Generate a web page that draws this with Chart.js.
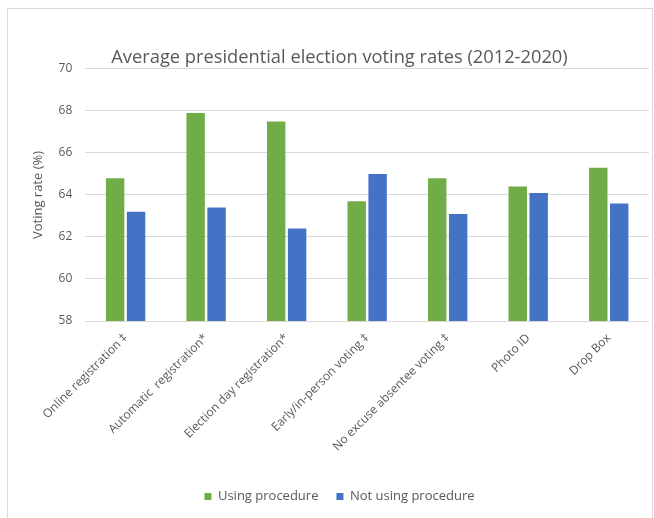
<!DOCTYPE html>
<html>
<head>
<meta charset="utf-8">
<script src="https://cdn.jsdelivr.net/npm/chart.js@4"></script>
<style>
  html, body { margin: 0; padding: 0; background: #fff; }
  #frame {
    position: absolute; left: 7px; top: 8px;
    width: 644px; height: 520px;
    border: 1px solid #d9d9d9; border-bottom: none;
  }
  #chartBox { position: absolute; left: 0; top: 0; width: 644px; height: 510px; }
</style>
</head>
<body>
<div id="frame"><div id="chartBox"><canvas id="votingChart"></canvas></div></div>
<script>
const categories = [
    'Online registration \u2021',
    'Automatic  registration*',
    'Election day registration*',
    'Early/in-person voting \u2021',
    'No excuse absentee voting \u2021',
    'Photo ID',
    'Drop Box'
];
const usingProcedure = [64.8, 67.9, 67.5, 63.7, 64.8, 64.4, 65.3];
const notUsingProcedure = [63.2, 63.4, 62.4, 65.0, 63.1, 64.1, 63.6];
const yTicks = [58, 60, 62, 64, 66, 68, 70];

const grey = '#595959';
const fontFam = '"Open Sans", sans-serif';

const ctx = document.getElementById('votingChart').getContext('2d');
const chart = new Chart(ctx, {
    type: 'bar',
    data: {
        labels: categories,
        datasets: [{
            label: 'Using procedure',
            data: usingProcedure,
            backgroundColor: '#70ad47',
            barPercentage: 0.88,
            categoryPercentage: 0.52
        }, {
            label: 'Not using procedure',
            data: notUsingProcedure,
            backgroundColor: '#4472c4',
            barPercentage: 0.88,
            categoryPercentage: 0.52
        }]
    },
    options: {
        responsive: true,
        maintainAspectRatio: false,
        animation: false,
        layout: { padding: { left: 22, right: 3, top: 38, bottom: 6 } },
        plugins: {
            title: {
                display: true,
                text: 'Average presidential election voting rates (2012-2020)',
                color: grey,
                font: { family: fontFam, size: 18.3, weight: 'normal' },
                padding: { top: 0, bottom: 0 }
            },
            legend: {
                position: 'bottom',
                labels: {
                    color: grey,
                    boxWidth: 7,
                    boxHeight: 7,
                    padding: 18,
                    font: { family: fontFam, size: 13 }
                }
            },
            tooltip: { enabled: false }
        },
        scales: {
            x: {
                grid: { display: false },
                border: { display: false },
                afterFit: (axis) => { axis.height = 151; },
                ticks: {
                    color: grey,
                    minRotation: 45,
                    maxRotation: 45,
                    padding: 2,
                    font: { family: fontFam, size: 12 }
                }
            },
            y: {
                min: 58,
                max: 70,
                afterBuildTicks: (axis) => { axis.ticks = yTicks.map(v => ({ value: v })); },
                grid: { color: '#d9d9d9', drawTicks: false },
                border: { display: false },
                ticks: {
                    color: grey,
                    padding: 13,
                    font: { family: fontFam, size: 12 }
                },
                title: {
                    display: true,
                    text: 'Voting rate (%)',
                    color: grey,
                    font: { family: fontFam, size: 13 },
                    padding: { top: 0, bottom: 0 }
                }
            }
        }
    }
});
</script>
</body>
</html>
